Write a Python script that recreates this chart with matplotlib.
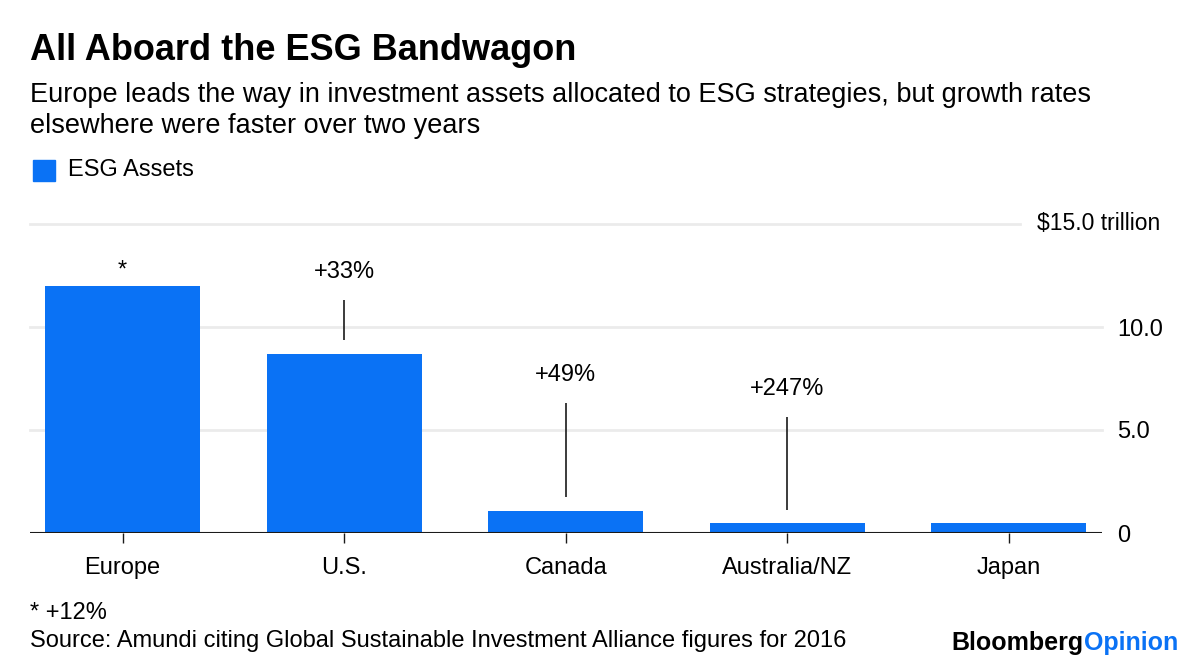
import numpy as np
import matplotlib
matplotlib.use("Agg")
import matplotlib.pyplot as plt
import matplotlib.transforms as mtransforms

plt.rcParams['font.family'] = ['Liberation Sans', 'DejaVu Sans']

regions = ['Europe', 'U.S.', 'Canada', 'Australia/NZ', 'Japan']
assets = [12.0, 8.7, 1.08, 0.5, 0.47]          # $ trillion, 2016
growth_labels = ['*', '+33%', '+49%', '+247%', '']
label_y = [12.75, 12.65, 7.65, 7.0, None]
line_lo = [None, 9.35, 1.75, 1.1, None]
line_hi = [None, 11.3, 6.3, 5.65, None]
yticks = [0, 5, 10, 15]
ytick_labels = ['0', '5.0', '10.0', '$15.0 trillion']

blue = '#0a72f5'
W, H = 1200, 671
fig = plt.figure(figsize=(W / 100, H / 100), dpi=100)
ax = fig.add_axes([29.5 / W, 1 - 533 / H, (1102 - 29.5) / W, (533 - 224) / H])

x = np.arange(len(regions))
ax.bar(x, assets, width=0.7, color=blue, zorder=3)

ax.set_xlim(-0.42, 4.42)
ax.set_ylim(0, 15)

# grid lines, top one shortened to make room for the unit label
for t in yticks[1:]:
    xmax = 0.9235 if t == yticks[-1] else 1.0
    ax.axhline(t, xmin=0, xmax=xmax, color='#ebebeb', lw=2, zorder=1, clip_on=False)
ax.axhline(0, color='#1a1a1a', lw=1.5, zorder=4)

for s in ax.spines.values():
    s.set_visible(False)

fs = 17
ax.set_xticks(x)
ax.set_xticklabels(regions, fontsize=fs)
ax.tick_params(axis='x', length=7, width=1, color='#1a1a1a', pad=10)

ax.yaxis.tick_right()
ax.set_yticks(yticks[:-1])
ax.set_yticklabels(ytick_labels[:-1], fontsize=fs)
ax.tick_params(axis='y', length=0, pad=11)
trans = mtransforms.blended_transform_factory(ax.transAxes, ax.transData)
ax.text((1160 - 29.5) / (1102 - 29.5), yticks[-1], ytick_labels[-1].replace('$', r'\$'),
        transform=trans, ha='right', va='center', fontsize=16.5)

# growth annotations
for i in range(len(regions)):
    if line_lo[i] is not None:
        ax.vlines(x[i], line_lo[i], line_hi[i], color='#1a1a1a', lw=1.2, zorder=4)
    if growth_labels[i]:
        ax.text(x[i], label_y[i], growth_labels[i], ha='center', va='center', fontsize=fs)

# titles
fig.text(30 / W, 1 - 50 / H, 'All Aboard the ESG Bandwagon', fontsize=26, fontweight='bold',
         va='center', ha='left')
fig.text(30 / W, 1 - 95 / H, 'Europe leads the way in investment assets allocated to ESG strategies, but growth rates',
         fontsize=19.5, va='center', ha='left')
fig.text(30 / W, 1 - 126 / H, 'elsewhere were faster over two years',
         fontsize=19.5, va='center', ha='left')

# legend
fig.patches.append(plt.Rectangle((33 / W, 1 - 181 / H), 22 / W, 21 / H, color=blue,
                                 transform=fig.transFigure, figure=fig))
fig.text(68 / W, 1 - 170 / H, 'ESG Assets', fontsize=fs, va='center', ha='left')

# footer
fig.text(30 / W, 1 - 613 / H, '* +12%', fontsize=17, va='center', ha='left')
fig.text(30 / W, 1 - 641 / H, 'Source: Amundi citing Global Sustainable Investment Alliance figures for 2016',
         fontsize=17, va='center', ha='left')

op = fig.text(1178 / W, 1 - 643 / H, 'Opinion', fontsize=18, fontweight='bold', color=blue,
              va='center', ha='right')
fig.canvas.draw()
bb = op.get_window_extent(renderer=fig.canvas.get_renderer())
fig.text(bb.x0 / W, 1 - 643 / H, 'Bloomberg', fontsize=18, fontweight='bold', color='black',
         va='center', ha='right')

fig.savefig('out.png', dpi=100, facecolor='white')
